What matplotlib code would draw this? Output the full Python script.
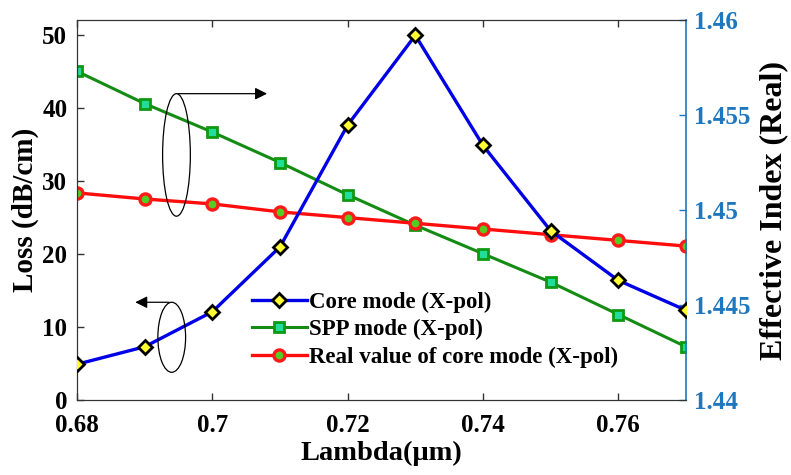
import matplotlib
matplotlib.use("Agg")
import matplotlib.pyplot as plt
from matplotlib.patches import Ellipse
from matplotlib.ticker import FixedLocator, FixedFormatter

plt.rcParams['font.family'] = ['Liberation Serif', 'DejaVu Serif']
plt.rcParams['font.weight'] = 'bold'

wavelength = [0.68, 0.69, 0.70, 0.71, 0.72, 0.73, 0.74, 0.75, 0.76, 0.77]
core_loss = [4.9, 7.3, 12.1, 21.0, 37.7, 50.0, 34.9, 23.2, 16.4, 12.3]
spp_neff = [1.4573, 1.4556, 1.4541, 1.4525, 1.4508, 1.4492, 1.4477, 1.4462, 1.4445, 1.4428]
core_neff = [1.4509, 1.45058, 1.45032, 1.4499, 1.4496, 1.4493, 1.4490, 1.4487, 1.4484, 1.4481]

xticks = [0.68, 0.70, 0.72, 0.74, 0.76]
xticklabels = ['0.68', '0.7', '0.72', '0.74', '0.76']
lticks = [0, 10, 20, 30, 40, 50]
rticks = [1.44, 1.445, 1.45, 1.455, 1.46]
rticklabels = ['1.44', '1.445', '1.45', '1.455', '1.46']

right_color = '#1f77bd'

fig = plt.figure(figsize=(7.91, 4.75), dpi=100)
ax = fig.add_axes([77/791, 75/475, (686-77)/791, 380/475])
ax2 = ax.twinx()

l1, = ax.plot(wavelength, core_loss, color='#0000e6', lw=2.4, marker='D', ms=7,
              mfc='#ffff33', mec='black', mew=2.0, label='Core mode (X-pol)', zorder=5)
l2, = ax2.plot(wavelength, spp_neff, color='#148c14', lw=2.2, marker='s', ms=6.5,
               mfc='#22dd99', mec='#109910', mew=2.0, label='SPP mode (X-pol)')
l3, = ax2.plot(wavelength, core_neff, color='#ff0d0d', lw=2.4, marker='o', ms=8,
               mfc='#55cc22', mec='#ff1a1a', mew=2.4, label='Real value of core mode (X-pol)')

ax.set_zorder(ax2.get_zorder() + 1)
ax.patch.set_visible(False)

ax.set_xlim(0.68, 0.77)
ax.set_ylim(0, 52.1)
ax2.set_ylim(1.44, 1.46)

ax.xaxis.set_major_locator(FixedLocator(xticks))
ax.xaxis.set_major_formatter(FixedFormatter(xticklabels))
ax.yaxis.set_major_locator(FixedLocator(lticks))
ax2.yaxis.set_major_locator(FixedLocator(rticks))
ax2.yaxis.set_major_formatter(FixedFormatter(rticklabels))

ax.tick_params(axis='x', direction='in', top=True, length=5, width=1, labelsize=18, pad=10, color='#333333')
ax.tick_params(axis='y', direction='in', right=False, length=5, width=1, labelsize=18, pad=7, color='#333333')
ax2.tick_params(axis='y', direction='in', length=5, width=1, labelsize=18, pad=6,
                colors=right_color)
for lab in ax.get_xticklabels() + ax.get_yticklabels() + ax2.get_yticklabels():
    lab.set_fontweight('bold')

for s in ['left', 'bottom', 'top']:
    ax.spines[s].set_color('#333333')
    ax2.spines[s].set_color('#333333')
ax.spines['right'].set_visible(False)
ax2.spines['right'].set_color(right_color)
ax2.spines['right'].set_linewidth(1.2)

ax.set_xlabel('Lambda(μm)', fontsize=20.5, fontweight='bold', labelpad=3)
ax.set_ylabel('Loss (dB/cm)', fontsize=21, fontweight='bold', labelpad=2)
ax2.set_ylabel('Effective Index (Real)', fontsize=23, fontweight='bold', labelpad=6, color='black')

leg = ax.legend(handles=[l1, l2, l3], loc='upper left', bbox_to_anchor=(0.272, 0.31),
                frameon=False, fontsize=16.5, handlelength=2.4, handletextpad=0.1,
                labelspacing=0.28, borderaxespad=0)
for t in leg.get_texts():
    t.set_fontweight('bold')

# annotation ellipses and arrows (left-axis data coordinates)
e1 = Ellipse((0.6947, 33.6), 0.0041, 16.8, fill=False, lw=0.9, ec='black', zorder=6)
ax.add_patch(e1)
ax.annotate('', xy=(0.7085, 42.0), xytext=(0.6945, 42.0),
            arrowprops=dict(arrowstyle='-|>', color='black', lw=0.9, mutation_scale=18))
e2 = Ellipse((0.694, 8.6), 0.0041, 9.6, fill=False, lw=0.9, ec='black', zorder=6)
ax.add_patch(e2)
ax.annotate('', xy=(0.6882, 13.4), xytext=(0.694, 13.4),
            arrowprops=dict(arrowstyle='-|>', color='black', lw=0.9, mutation_scale=18))

fig.savefig('out.png', dpi=100)
